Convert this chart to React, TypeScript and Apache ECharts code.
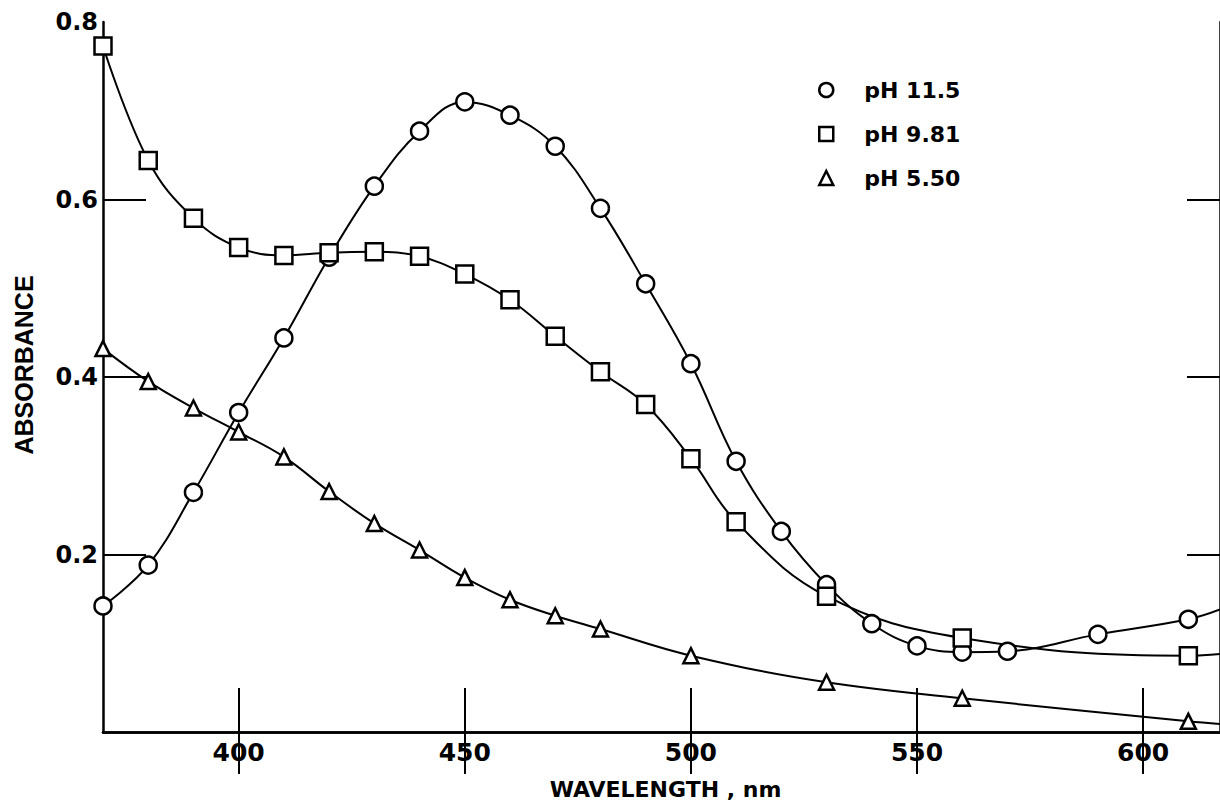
import React, { useEffect, useRef } from "react";
import * as echarts from "echarts";

const wl115 = [370, 380, 390, 400, 410, 420, 430, 440, 450, 460, 470, 480, 490, 500, 510, 520, 530, 540, 550, 560, 570, 590, 610, 617];
const ab115 = [0.142, 0.188, 0.27, 0.36, 0.444, 0.535, 0.615, 0.677, 0.71, 0.695, 0.66, 0.59, 0.505, 0.415, 0.305, 0.226, 0.166, 0.122, 0.097, 0.09, 0.091, 0.11, 0.127, 0.138];
const wl981 = [370, 380, 390, 400, 410, 420, 430, 440, 450, 460, 470, 480, 490, 500, 510, 530, 560, 610, 617];
const ab981 = [0.773, 0.644, 0.579, 0.546, 0.537, 0.54, 0.541, 0.536, 0.516, 0.487, 0.446, 0.406, 0.369, 0.308, 0.237, 0.153, 0.106, 0.086, 0.088];
const wl550 = [370, 380, 390, 400, 410, 420, 430, 440, 450, 460, 470, 480, 500, 530, 560, 610, 617];
const ab550 = [0.432, 0.395, 0.365, 0.338, 0.31, 0.271, 0.235, 0.205, 0.174, 0.149, 0.131, 0.116, 0.086, 0.056, 0.038, 0.012, 0.009];
// last point of each list is only the curve's continuation to the frame edge (no marker)

const xTicks = [400, 450, 500, 550, 600];
const yLabels = [0.2, 0.4, 0.6, 0.8];
const yTicks = [0.2, 0.4, 0.6];
const seriesNames = ["pH 11.5", "pH 9.81", "pH 5.50"];
const yTitle = "ABSORBANCE";
const xTitle = "WAVELENGTH , nm";

const GEO = "'DejaVu Sans', sans-serif";
const ARIAL = "'Liberation Sans', Arial, sans-serif";

function build(wl: number[], ab: number[]) {
  return wl.map((w, i) =>
    i === wl.length - 1 ? { value: [w, ab[i]], symbol: "none" } : { value: [w, ab[i]] }
  );
}

export default function App() {
  const ref = useRef<HTMLDivElement>(null);
  useEffect(() => {
    const chart = echarts.init(ref.current!, null, { renderer: "svg" });
    const mk = (name: string, data: any[], symbol: string, size: number) => ({
      type: "line",
      name,
      data,
      smooth: 0.4,
      symbol,
      symbolSize: size,
      showAllSymbol: true,
      lineStyle: { color: "#000", width: 2 },
      itemStyle: { color: "#fff", borderColor: "#000", borderWidth: 2.5 },
      z: 3,
    });
    chart.setOption({
      animation: false,
      backgroundColor: "#fff",
      textStyle: { fontFamily: GEO },
      grid: { left: 103, right: 0, top: 22, bottom: 78 },
      legend: {
        orient: "vertical",
        left: 813,
        top: 74,
        itemGap: 22,
        itemWidth: 14,
        itemHeight: 14,
        textStyle: { fontFamily: GEO, fontSize: 22, fontWeight: "bold", color: "#000", padding: [0, 0, 0, 26] },
        data: [
          { name: seriesNames[0], icon: "circle" },
          { name: seriesNames[1], icon: "rect" },
          { name: seriesNames[2], icon: "triangle" },
        ],
        itemStyle: { color: "#fff", borderColor: "#000", borderWidth: 2.5 },
      },
      graphic: [
        {
          type: "text",
          x: 24,
          y: 365,
          rotation: Math.PI / 2,
          style: {
            text: yTitle,
            fontFamily: ARIAL,
            fontSize: 25,
            fontWeight: "bold",
            fill: "#000",
            align: "center",
            verticalAlign: "middle",
          },
        },
      ],
      xAxis: [
        {
          type: "value",
          min: 370,
          max: 617,
          position: "bottom",
          name: xTitle,
          nameLocation: "middle",
          nameGap: 46,
          nameTextStyle: { fontFamily: GEO, fontSize: 22, fontWeight: "bold", color: "#000", padding: [0, 0, 0, 8] },
          axisLine: { show: true, lineStyle: { color: "#000", width: 2.5 } },
          axisTick: { show: true, inside: true, length: 44, customValues: xTicks, lineStyle: { color: "#000", width: 2 } },
          axisLabel: { customValues: xTicks, fontFamily: GEO, fontSize: 25, fontWeight: "bold", color: "#000", margin: 8 },
          splitLine: { show: false },
        },
        {
          type: "value",
          min: 370,
          max: 617,
          position: "top",
          axisLine: { show: true, lineStyle: { color: "#000", width: 2.5 } },
          axisTick: { show: true, inside: true, length: 42, customValues: xTicks, lineStyle: { color: "#000", width: 2 } },
          axisLabel: { show: false },
          splitLine: { show: false },
        },
      ],
      yAxis: [
        {
          type: "value",
          min: 0,
          max: 0.8,
          position: "left",
          axisLine: { show: true, lineStyle: { color: "#000", width: 2.5 } },
          axisTick: { show: true, inside: true, length: 43, customValues: yTicks, lineStyle: { color: "#000", width: 2 } },
          axisLabel: {
            customValues: yLabels,
            fontFamily: GEO,
            fontSize: 24,
            fontWeight: "bold",
            color: "#000",
            margin: 5,
            formatter: (v: number) => v.toFixed(1),
          },
          splitLine: { show: false },
        },
        {
          type: "value",
          min: 0,
          max: 0.8,
          position: "right",
          axisLine: { show: true, lineStyle: { color: "#000", width: 2.5 } },
          axisTick: { show: true, inside: true, length: 33, customValues: yTicks, lineStyle: { color: "#000", width: 2 } },
          axisLabel: { show: false },
          splitLine: { show: false },
        },
      ],
      series: [
        mk(seriesNames[0], build(wl115, ab115), "circle", 17),
        mk(seriesNames[1], build(wl981, ab981), "rect", 17),
        mk(seriesNames[2], build(wl550, ab550), "triangle", 15),
      ],
    });
    return () => chart.dispose();
  }, []);
  return <div ref={ref} style={{ position: "absolute", left: 0, top: 0, width: 1220, height: 810 }} />;
}
